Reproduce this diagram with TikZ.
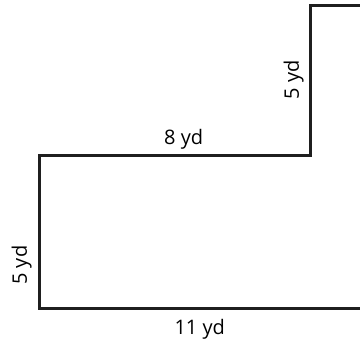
\documentclass[tikz,border=0pt]{standalone}
\usepackage{fontspec}
\setmainfont{Open Sans}
\tikzstyle{wall} = [draw,line width=3pt,color=black!88,line join=miter]
\tikzstyle{length} = [font=\fontsize{20}{23}\selectfont,inner sep=3pt]

\begin{document}
\begin{tikzpicture}[x=1pt,y=-1pt]
				\useasboundingbox (0,0) rectangle (360,351);
				% First we place the corners
				\foreach \x/\y/\name in {40/308/bl, 40/155/ml, 311/155/mi,
										311/5/tl, 366/5/tr, 366/308/br}
				\coordinate (\name) at (\x,\y);
	
				% Then the outline, cut at the right edge
				\begin{scope}
					\clip (0,0) rectangle (360,351);
					\path[wall] (bl) -- (ml) -- (mi) -- (tl) -- (tr) -- (br) -- cycle;
				\end{scope}
	
				% Lengths of the sides
				\path (ml) -- node[length, above, pos=0.53, yshift=2pt] (top) {8 yd} (mi);
				\path (bl) -- node[length, below, pos=0.49, yshift=-8pt] (bottom) {11 yd} (br);
				\path (bl) -- node[length, above, sloped, pos=0.28, yshift=5pt] (left) {5 yd} (ml);
				\path (mi) -- node[length, above, sloped, yshift=4pt] (right) {5 yd} (tl);
			\end{tikzpicture}
\end{document}
